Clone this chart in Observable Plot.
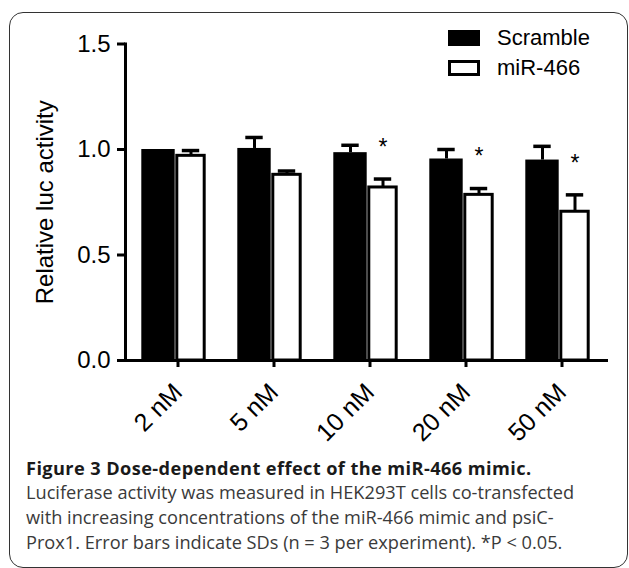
<!DOCTYPE html>
<html><head><meta charset="utf-8">
<script src="https://cdn.jsdelivr.net/npm/d3@7"></script>
<script src="https://cdn.jsdelivr.net/npm/@observablehq/plot@0.6"></script>
<style>
body{margin:0;background:#fff;}
#wrap{position:relative;width:629px;height:568px;overflow:hidden;background:#fff;}
#box{position:absolute;left:9px;top:12px;width:619px;height:556px;box-sizing:border-box;border:1.5px solid #333;border-radius:14px;}
#chart{position:absolute;left:0;top:0;}
#chart svg{display:block;}
.sw{position:absolute;left:448px;width:32px;height:16px;box-sizing:border-box;}
.lt{position:absolute;left:497px;font-family:"Liberation Sans",Arial,sans-serif;font-size:22px;line-height:22px;color:#000;white-space:nowrap;}
#capTitle{position:absolute;left:26px;top:456.1px;font-family:"Open Sans",sans-serif;font-weight:700;font-size:18.2px;line-height:25px;letter-spacing:0.4px;color:#1a1a1a;white-space:nowrap;}
#capBody{position:absolute;left:26px;top:480.4px;font-family:"Open Sans",sans-serif;font-size:18.2px;line-height:25px;color:#3a3a3a;white-space:nowrap;}
</style></head>
<body>
<div id="wrap">
  <div id="box"></div>
  <div id="chart"></div>
  <div class="sw" style="top:30px;background:#000;"></div>
  <div class="sw" style="top:60px;background:#fff;border:3px solid #000;"></div>
  <div class="lt" id="lg0" style="top:27px;"></div>
  <div class="lt" id="lg1" style="top:57px;"></div>
  <div id="capTitle"></div>
  <div id="capBody"></div>
</div>
<script>
// ---- data ----
const doses = ["2 nM", "5 nM", "10 nM", "20 nM", "50 nM"];
const seriesNames = ["Scramble", "miR-466"];
const scrambleMean = [1.00, 1.005, 0.985, 0.955, 0.95];
const scrambleSD   = [0.00, 0.052, 0.035, 0.045, 0.065];
const mirMean      = [0.97, 0.88, 0.82, 0.785, 0.705];
const mirSD        = [0.025, 0.018, 0.04, 0.03, 0.08];
const significant  = [false, false, true, true, true];
const yTicks = [0, 0.5, 1.0, 1.5];
const yLabel = "Relative luc activity";
const captionTitle = "Figure 3 Dose-dependent effect of the miR-466 mimic.";
const captionLines = [
  "Luciferase activity was measured in HEK293T cells co-transfected",
  "with increasing concentrations of the miR-466 mimic and psiC-",
  "Prox1. Error bars indicate SDs (n\u00a0=\u00a03 per experiment). *P\u00a0<\u00a00.05."
];

const rows = doses.map((d, i) => ({
  dose: d,
  scr: scrambleMean[i], scrSD: scrambleSD[i],
  mir: mirMean[i], mirSD: mirSD[i], sig: significant[i]
}));
const scrErr = rows.filter(d => d.scrSD > 0);

const chart = Plot.plot({
  width: 629,
  height: 450,
  marginLeft: 125,
  marginRight: 21,
  marginTop: 43.5,
  marginBottom: 90,
  style: {fontFamily: "'Liberation Sans', Arial, sans-serif", fontSize: "24px", color: "#000", background: "transparent"},
  x: {type: "band", domain: doses, padding: 0},
  y: {domain: [0, 1.5]},
  marks: [
    Plot.barY(rows, {x: "dose", y: "scr", fill: "#000", insetLeft: 14.3, insetRight: 48.3}),
    Plot.barY(rows, {x: "dose", y: "mir", fill: "#fff", stroke: "#000", strokeWidth: 3, insetLeft: 49.8, insetRight: 18.8}),
    Plot.ruleX(scrErr, {x: "dose", y1: "scr", y2: d => d.scr + d.scrSD, dx: -17, stroke: "#000", strokeWidth: 3}),
    Plot.tickY(scrErr, {x: "dose", y: d => d.scr + d.scrSD, insetLeft: 22.3, insetRight: 56.3, stroke: "#000", strokeWidth: 3.5}),
    Plot.ruleX(rows, {x: "dose", y1: "mir", y2: d => d.mir + d.mirSD, dx: 15.5, stroke: "#000", strokeWidth: 3}),
    Plot.tickY(rows, {x: "dose", y: d => d.mir + d.mirSD, insetLeft: 54.8, insetRight: 23.8, stroke: "#000", strokeWidth: 3.5}),
    Plot.text(rows.filter(d => d.sig), {x: "dose", y: d => d.mir + d.mirSD + 0.15, text: () => "*", dx: 15.5, fontSize: 23}),
    Plot.ruleY([0], {stroke: "#000", strokeWidth: 3}),
    Plot.frame({anchor: "left", stroke: "#000", strokeWidth: 3}),
    Plot.axisY({ticks: yTicks, tickFormat: d3.format(".1f"), tickSize: 8, tickPadding: 7, strokeWidth: 3, label: null}),
    Plot.axisX({tickRotate: -45, tickSize: 7, tickPadding: 20.5, dx: 2.5, fontSize: 25, strokeWidth: 3, label: null}),
    Plot.text([yLabel], {frameAnchor: "left", textAnchor: "middle", rotate: -90, dx: -80, fontSize: 24})
  ]
});
document.getElementById("chart").appendChild(chart);

document.getElementById("lg0").textContent = seriesNames[0];
document.getElementById("lg1").textContent = seriesNames[1];
document.getElementById("capTitle").textContent = captionTitle;
const body = document.getElementById("capBody");
captionLines.forEach((t, i) => {
  if (i) body.appendChild(document.createElement("br"));
  body.appendChild(document.createTextNode(t));
});
</script>
</body></html>
